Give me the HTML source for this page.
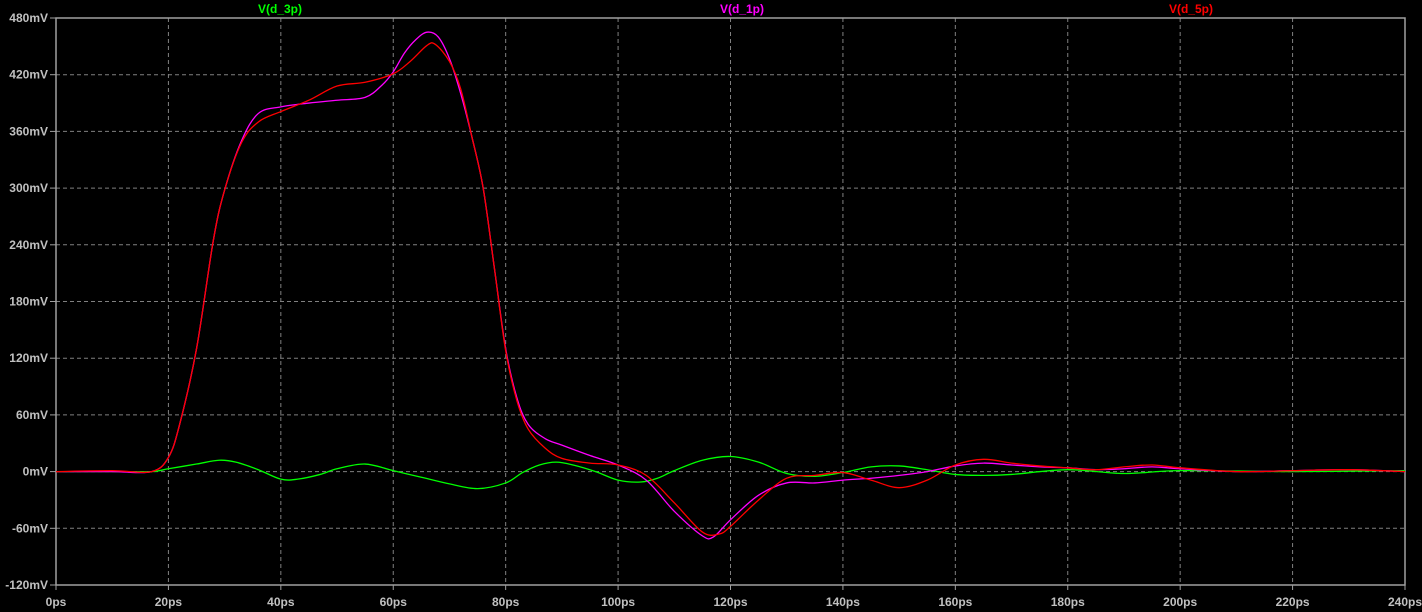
<!DOCTYPE html>
<html><head><meta charset="utf-8"><style>
html,body{margin:0;padding:0;background:#000;}
svg{display:block;}
text{font-family:"Liberation Sans",Arial,sans-serif;font-weight:bold;font-size:12px;}
</style></head><body>
<svg id="chart" width="1422" height="612" viewBox="0 0 1422 612" xmlns="http://www.w3.org/2000/svg">
<rect x="0" y="0" width="1422" height="612" fill="#000"/>
<g id="grid"></g>
<g id="axes"></g>
<g id="series"></g>
<text x="280" y="13" fill="#00ff00" text-anchor="middle">V(d_3p)</text>
<text x="742" y="13" fill="#ff00ff" text-anchor="middle">V(d_1p)</text>
<text x="1191" y="13" fill="#ff0000" text-anchor="middle">V(d_5p)</text>
</svg>
<script>
const xTicks = [0,20,40,60,80,100,120,140,160,180,200,220,240];
const yTicks = [-120,-60,0,60,120,180,240,300,360,420,480];
const t1 = [0,10,17,20,22,25,28,30,33,36,40,45,50,55,58,60,62,64,66,68,70,72,74,76,78,80,82,84,87,90,95,100,105,110,115,117,120,125,130,135,140,145,150,155,160,165,170,175,180,185,190,195,200,210,220,230,240];
const v1 = [0,0,0,15,50,130,245,298,350,379,386,390,393,396,409,423,443,457,465,460,437,400,354,300,215,130,78,50,35,28,17,7,-9,-42,-68,-69,-51,-25,-12,-12,-9,-7,-4,0,6,9,7,5,4,2,3,5,3,0,1,2,0];
const t5 = [0,10,17,20,22,25,28,30,33,36,40,45,50,55,60,63,66,67.5,70,72,74,76,78,80,82,84,87,90,95,100,105,110,115,118,120,125,130,135,140,145,150,155,160,165,170,175,180,185,190,195,200,210,220,230,240];
const v5 = [0,1,0,15,50,130,245,298,348,370,381,393,408,412,421,434,451,452,434,405,354,300,215,128,75,45,25,14,9,7,-4,-33,-64,-66,-58,-30,-7,-4,-1,-9,-17,-9,7,13,9,6,4,2,5,7,4,0,1,2,0];
const t3 = [0,10,17,20,25,29,32,36,40,43,47,50,55,60,65,70,75,80,83,86,89,92,96,100,104,107,110,115,120,125,130,135,140,145,150,155,160,165,170,180,190,200,220,240];
const v3 = [0,0,0,3,8,12,10,2,-8,-8,-3,3,8,1,-6,-13,-18,-12,-1,7,10,7,0,-9,-11,-7,1,12,16,10,-2,-5,-1,5,6,2,-3,-4,-3,2,-2,1,0,1];

const X0=56, X1=1405, Y0=18, Y1=585;
function xs(t){return X0+(t-0)/(240-0)*(X1-X0);}
function ys(v){return Y1-(v-(-120))/(480-(-120))*(Y1-Y0);}
const NS="http://www.w3.org/2000/svg";
const grid=document.getElementById('grid'), axes=document.getElementById('axes'), ser=document.getElementById('series');
function mk(tag,attrs,parent){const e=document.createElementNS(NS,tag);for(const k in attrs)e.setAttribute(k,attrs[k]);parent.appendChild(e);return e;}
xTicks.forEach(t=>{
  const x=xs(t);
  if(t>0&&t<240){const l=mk('line',{x1:x,y1:Y0,x2:x,y2:Y1,stroke:'#808080','stroke-dasharray':'4,3','stroke-width':1},grid);
  
  }
  const tk=mk('line',{x1:x,y1:Y1,x2:x,y2:Y1+5,stroke:'#a0a0a0'},axes);
  
  
  const tx=mk('text',{x:x,y:606,fill:'#c0c0c0','text-anchor':'middle'},axes);tx.textContent=t+'ps';
  
  
});
yTicks.forEach(v=>{
  const y=ys(v);
  if(v>-120&&v<480){const l=mk('line',{x1:X0,y1:y,x2:X1,y2:y,stroke:'#808080','stroke-dasharray':'4,3','stroke-width':1},grid);
  
  }
  const tk=mk('line',{x1:X0-6,y1:y,x2:X0,y2:y,stroke:'#a0a0a0'},axes);
  
  
  const tx=mk('text',{x:X0-8,y:y+4,fill:'#c0c0c0','text-anchor':'end'},axes);tx.textContent=v+'mV';
  
  
});
const fr=mk('rect',{x:X0,y:Y0,width:X1-X0,height:Y1-Y0,fill:'none',stroke:'#a0a0a0','stroke-width':1.5},axes);


function path(ts,vs){
  const p=ts.map((t,i)=>[xs(t),ys(vs[i])]);
  let d='M'+p[0][0]+','+p[0][1];
  for(let i=0;i<p.length-1;i++){
    const p0=p[Math.max(0,i-1)],p1=p[i],p2=p[i+1],p3=p[Math.min(p.length-1,i+2)];
    const c1=[p1[0]+(p2[0]-p0[0])/6,p1[1]+(p2[1]-p0[1])/6];
    const c2=[p2[0]-(p3[0]-p1[0])/6,p2[1]-(p3[1]-p1[1])/6];
    d+=' C'+c1[0]+','+c1[1]+' '+c2[0]+','+c2[1]+' '+p2[0]+','+p2[1];
  }
  return d;
}
const g3=mk('path',{d:path(t3,v3),fill:'none',stroke:'#00ff00','stroke-width':1.3},ser);


const g1=mk('path',{d:path(t1,v1),fill:'none',stroke:'#ff00ff','stroke-width':1.3},ser);


const g5=mk('path',{d:path(t5,v5),fill:'none',stroke:'#ff0000','stroke-width':1.3},ser);


</script>
</body></html>
